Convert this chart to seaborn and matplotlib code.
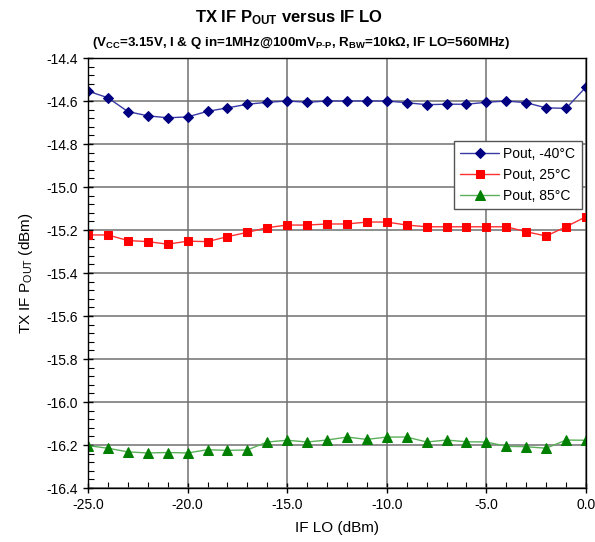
import matplotlib
matplotlib.use("Agg")
import matplotlib.pyplot as plt
import seaborn as sns
import pandas as pd
from matplotlib.ticker import MultipleLocator, FormatStrFormatter

# IF LO drive (dBm)
if_lo = [-25, -24, -23, -22, -21, -20, -19, -18, -17, -16, -15, -14, -13,
         -12, -11, -10, -9, -8, -7, -6, -5, -4, -3, -2, -1, 0]

# TX IF Pout (dBm) per temperature
pout_m40 = [-14.554, -14.585, -14.649, -14.669, -14.678, -14.674, -14.648, -14.632, -14.615,
            -14.606, -14.600, -14.606, -14.600, -14.600, -14.600, -14.600, -14.608, -14.617,
            -14.615, -14.615, -14.606, -14.600, -14.608, -14.632, -14.634, -14.535]
pout_25 = [-15.223, -15.223, -15.249, -15.254, -15.266, -15.252, -15.254, -15.231, -15.211,
           -15.189, -15.177, -15.177, -15.172, -15.172, -15.163, -15.163, -15.177, -15.185,
           -15.185, -15.185, -15.185, -15.185, -15.208, -15.228, -15.185, -15.138]
pout_85 = [-16.203, -16.215, -16.232, -16.237, -16.235, -16.237, -16.222, -16.225, -16.223,
           -16.186, -16.178, -16.186, -16.177, -16.163, -16.174, -16.163, -16.163, -16.186,
           -16.177, -16.185, -16.186, -16.206, -16.208, -16.215, -16.177, -16.178]

series_labels = ["Pout, -40°C", "Pout, 25°C", "Pout, 85°C"]

sns.set_style("white")
plt.rcParams["font.family"] = ["Liberation Sans", "DejaVu Sans"]
plt.rcParams["text.color"] = "black"
plt.rcParams["axes.labelcolor"] = "black"
plt.rcParams["xtick.color"] = "black"
plt.rcParams["ytick.color"] = "black"
plt.rcParams["mathtext.fontset"] = "custom"
plt.rcParams["mathtext.rm"] = "Liberation Sans"
plt.rcParams["mathtext.it"] = "Liberation Sans"
plt.rcParams["mathtext.bf"] = "Liberation Sans:bold"

fig = plt.figure(figsize=(5.95, 5.42), dpi=100)
ax = fig.add_axes([88 / 595, 1 - 488 / 542, 498 / 595, 430 / 542])

styles = [
    # (values, line colour, marker colour, marker, size)
    (pout_m40, "#3a3aa6", "#000080", "D", 5.0),
    (pout_25, "#ff3030", "#ff0000", "s", 5.5),
    (pout_85, "#5cb05c", "#008000", "^", 6.5),
]
for (vals, lc, mc, mk, ms), lab in zip(styles, series_labels):
    df = pd.DataFrame({"x": if_lo, "y": vals})
    sns.lineplot(data=df, x="x", y="y", ax=ax, color=lc, lw=1.0, marker=mk, ms=ms,
                 markerfacecolor=mc, markeredgecolor=mc, label=lab)

ax.set_xlim(-25, 0)
ax.set_ylim(-16.4, -14.4)
ax.xaxis.set_major_locator(MultipleLocator(5))
ax.xaxis.set_minor_locator(MultipleLocator(1))
ax.yaxis.set_major_locator(MultipleLocator(0.2))
ax.yaxis.set_minor_locator(MultipleLocator(0.04))
ax.xaxis.set_major_formatter(FormatStrFormatter("%.1f"))
ax.yaxis.set_major_formatter(FormatStrFormatter("%.1f"))
ax.tick_params(which="major", direction="inout", length=7, width=1, color="black",
               labelcolor="black", labelsize=10, bottom=True, left=True, pad=4)
ax.tick_params(which="minor", direction="in", length=4, width=0.8, color="black",
               bottom=True, left=True)
ax.grid(True, which="major", color="#707070", lw=1.1)
for sp in ax.spines.values():
    sp.set_color("black")
    sp.set_linewidth(1.0)

ax.set_xlabel("IF LO (dBm)", fontsize=11, labelpad=6, color="black")
ax.set_ylabel(r"TX IF P$_{\mathrm{OUT}}$ (dBm)", fontsize=11, labelpad=8, color="black")

fig.text(0.485, 1 - 18 / 542, r"TX IF P$_{\mathbf{OUT}}$ versus IF LO",
         ha="center", va="center", fontsize=12, fontweight="bold", color="black")
fig.text(0.506, 1 - 43 / 542,
         r"(V$_{\mathbf{CC}}$=3.15V, I & Q in=1MHz@100mV$_{\mathbf{P\text{-}P}}$, "
         r"R$_{\mathbf{BW}}$=10kΩ, IF LO=560MHz)",
         ha="center", va="center", fontsize=9.6, fontweight="bold", color="black")

leg = ax.legend(loc="upper left", bbox_to_anchor=((447 - 88) / 498, (488 - 134) / 430),
                fontsize=10, frameon=True, fancybox=False, framealpha=1,
                edgecolor="#555555", handlelength=2.8, borderpad=0.45, labelspacing=0.5,
                handletextpad=0.3)
leg.get_frame().set_linewidth(1.0)
for t in leg.get_texts():
    t.set_color("black")

fig.savefig("out.png", dpi=100)
